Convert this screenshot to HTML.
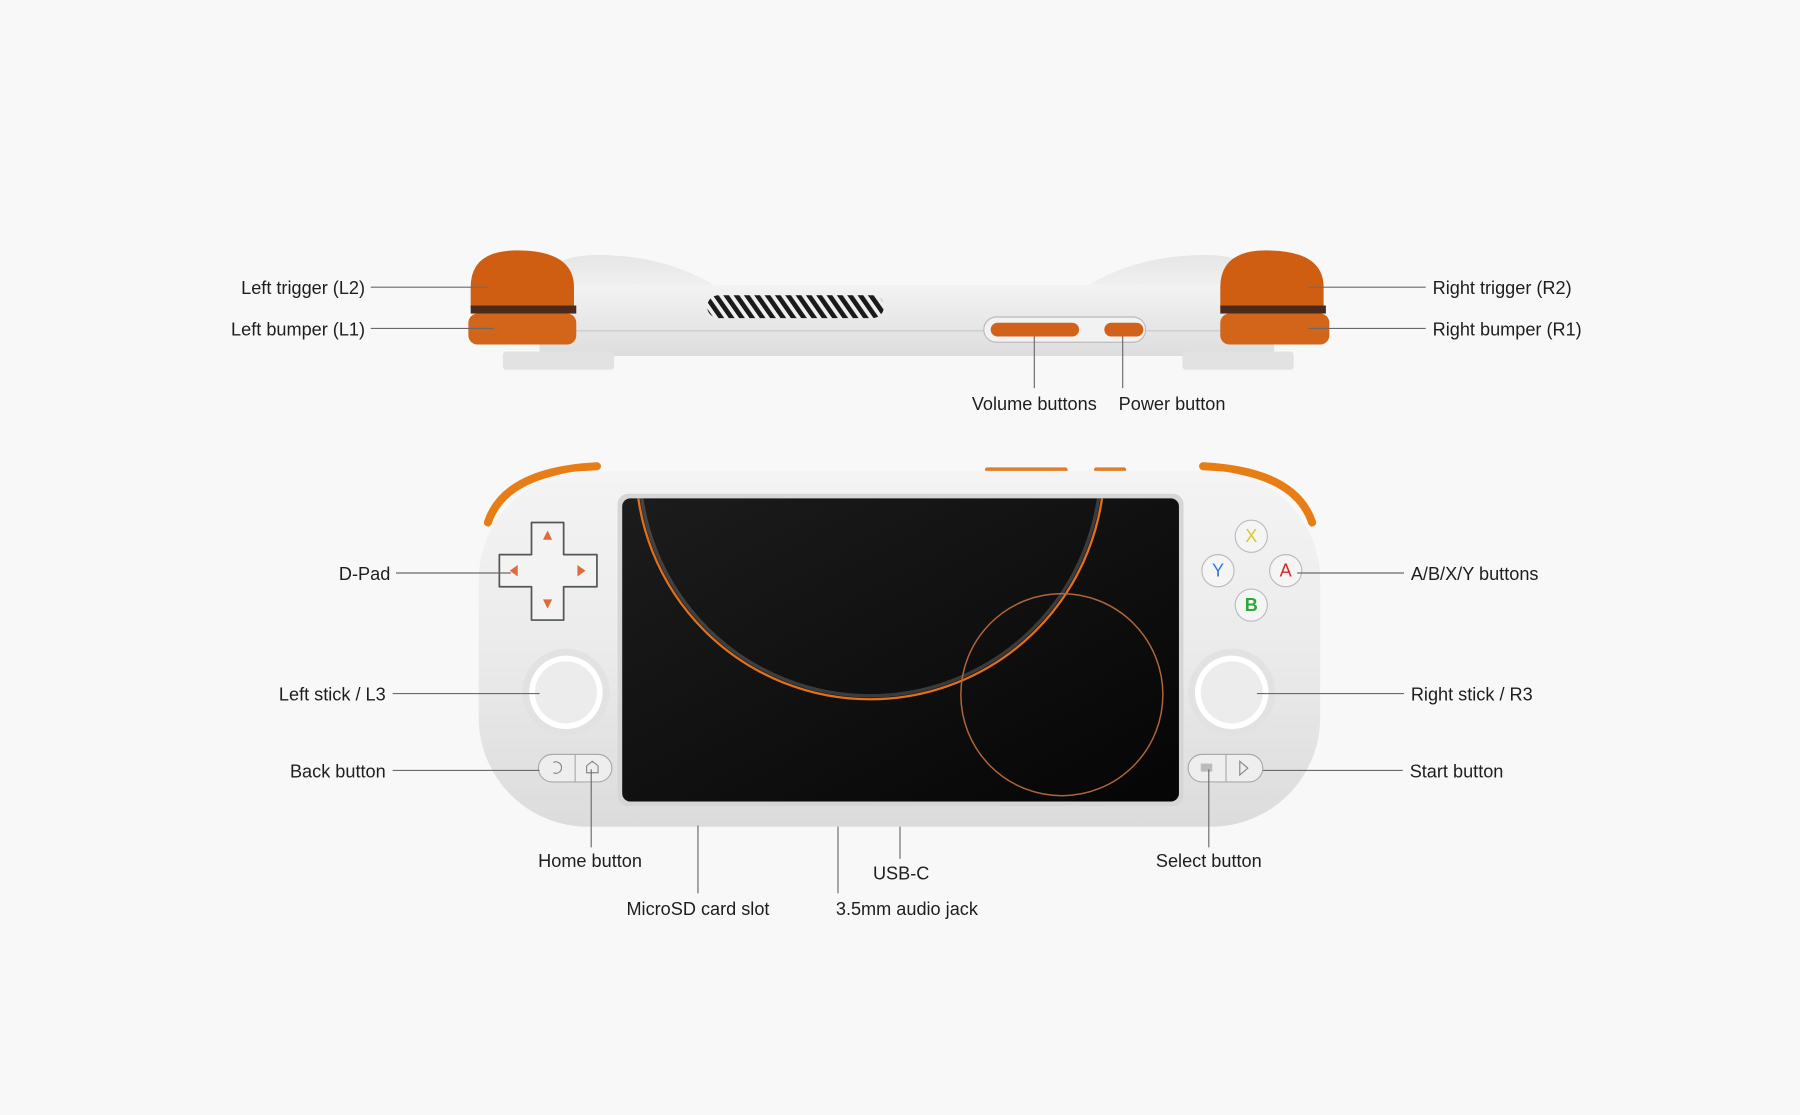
<!DOCTYPE html>
<html><head><meta charset="utf-8"><style>
html,body{margin:0;padding:0;background:#f8f8f8;}
svg{display:block}
text{font-family:"Liberation Sans",sans-serif;font-size:15.8px;fill:#1e1e1e;}
</style></head><body>
<svg width="1800" height="1115" viewBox="0 0 1568 971" xmlns="http://www.w3.org/2000/svg">
<defs>
<linearGradient id="bodyg" x1="0" y1="0" x2="0" y2="1">
<stop offset="0" stop-color="#f4f4f4"/><stop offset="0.5" stop-color="#ebebeb"/><stop offset="1" stop-color="#dcdcdc"/>
</linearGradient>
<linearGradient id="sideg" x1="0" y1="0" x2="0" y2="1">
<stop offset="0" stop-color="#f3f3f3"/><stop offset="1" stop-color="#dddddd"/>
</linearGradient>
<linearGradient id="hump" x1="0" y1="0" x2="0" y2="1">
<stop offset="0" stop-color="#e6e6e6"/><stop offset="1" stop-color="#f0f0f0"/>
</linearGradient>
<linearGradient id="scr" x1="0" y1="0" x2="1" y2="1">
<stop offset="0" stop-color="#1c1c1c"/><stop offset="1" stop-color="#050505"/>
</linearGradient>
<clipPath id="sc"><rect x="542" y="434" width="485" height="264" rx="7"/></clipPath>
<pattern id="vent" width="9" height="20" patternUnits="userSpaceOnUse" patternTransform="skewX(35)">
<rect width="9" height="20" fill="#eee"/><rect width="5" height="20" fill="#1a1a1a"/>
</pattern>
</defs>
<rect width="1568" height="971" fill="#f8f8f8"/>

<!-- TOP VIEW -->
<path d="M480 252 Q486 222 520 222 Q575 222 620 250 Z" fill="url(#hump)"/>
<path d="M470 250 Q476 222 520 222 Q580 222 625 250 L945 250 Q990 222 1050 222 Q1094 222 1100 250 Z" fill="url(#hump)"/>
<rect x="470" y="248" width="640" height="62" rx="6" fill="url(#sideg)"/>
<line x1="500" y1="288" x2="1063" y2="288" stroke="#c8c8c8" stroke-width="1"/>
<rect x="616" y="257" width="154" height="20" rx="10" fill="url(#vent)"/>
<rect x="438" y="306" width="97" height="16" rx="3" fill="#e2e2e2"/>
<rect x="1030" y="306" width="97" height="16" rx="3" fill="#e2e2e2"/>
<path d="M410 268 L410 250 Q410 218 450 218 Q500 218 500 250 L500 268 Z" fill="#cf5e12"/>
<rect x="410" y="266" width="92" height="7" fill="#4a2a1a"/>
<rect x="408" y="273" width="94" height="27" rx="8" fill="#d2651a"/>
<path d="M1063 268 L1063 250 Q1063 218 1103 218 Q1153 218 1153 250 L1153 268 Z" fill="#cf5e12"/>
<rect x="1063" y="266" width="92" height="7" fill="#4a2a1a"/>
<rect x="1063" y="273" width="95" height="27" rx="8" fill="#d2651a"/>
<rect x="857" y="276" width="141" height="22" rx="11" fill="#f2f2f2" stroke="#bbb"/>
<rect x="863" y="281" width="77" height="12" rx="6" fill="#d2621a"/>
<rect x="962" y="281" width="34" height="12" rx="6" fill="#d2621a"/>

<!-- FRONT VIEW -->
<rect x="858" y="407" width="72" height="4" rx="2" fill="#e07d2a"/>
<rect x="953" y="407" width="28" height="4" rx="2" fill="#e07d2a"/>
<path d="M425 455 Q440 410 520 406" fill="none" stroke="#e77d14" stroke-width="7" stroke-linecap="round"/>
<path d="M1048 406 Q1128 410 1143 455" fill="none" stroke="#e77d14" stroke-width="7" stroke-linecap="round"/>
<rect x="417" y="410" width="733" height="310" rx="95" fill="url(#bodyg)"/>
<rect x="538" y="430" width="493" height="272" rx="9" fill="#d6d6d6"/>
<rect x="542" y="434" width="485" height="264" rx="7" fill="url(#scr)"/>
<g clip-path="url(#sc)" fill="none">
<circle cx="758" cy="405" r="204" stroke="#e0701e" stroke-width="2"/>
<circle cx="758" cy="405" r="201" stroke="#ffffff" stroke-opacity="0.18" stroke-width="3"/>
<circle cx="925" cy="605" r="88" stroke="#b0653a" stroke-width="1.3"/>
</g>
<!-- dpad -->
<path d="M463 455 h28 v28 h29 v28 h-29 v29 h-28 v-29 h-28 v-28 h28 z" fill="#f3f3f3" stroke="#555" stroke-width="1.5" stroke-linejoin="round"/>
<polygon points="477,462 473,470 481,470" fill="#e06a3a"/>
<polygon points="477,530 473,522 481,522" fill="#e06a3a"/>
<polygon points="444,497 451,492 451,502" fill="#e06a3a"/>
<polygon points="510,497 503,492 503,502" fill="#e06a3a"/>
<!-- ABXY -->
<g stroke="#bbb" fill="#f5f5f5">
<circle cx="1090" cy="467" r="14"/><circle cx="1061" cy="497" r="14"/><circle cx="1120" cy="497" r="14"/><circle cx="1090" cy="527" r="14"/>
</g>
<g font-size="14" text-anchor="middle">
<text x="1090" y="472" style="fill:#d8c832">X</text>
<text x="1061" y="502" style="fill:#2d7fcf">Y</text>
<text x="1120" y="502" style="fill:#d42828">A</text>
<text x="1090" y="532" style="fill:#2aa838;font-weight:bold">B</text>
</g>
<!-- sticks -->
<circle cx="493" cy="603" r="38" fill="#e2e2e2"/><circle cx="493" cy="603" r="32" fill="#fff"/><circle cx="493" cy="603" r="27" fill="#ececec"/>
<circle cx="1073" cy="603" r="38" fill="#e2e2e2"/><circle cx="1073" cy="603" r="32" fill="#fff"/><circle cx="1073" cy="603" r="27" fill="#ececec"/>
<!-- small buttons -->
<rect x="469" y="657" width="64" height="24" rx="12" fill="#eee" stroke="#aaa"/><line x1="501" y1="657" x2="501" y2="681" stroke="#aaa"/>
<rect x="1035" y="657" width="65" height="24" rx="12" fill="#eee" stroke="#aaa"/><line x1="1068" y1="657" x2="1068" y2="681" stroke="#aaa"/>
<path d="M482 664 a5 5 0 1 1 0 9" fill="none" stroke="#888"/>
<path d="M511 673 v-6 l5 -4 l5 4 v6 z" fill="none" stroke="#888"/>
<rect x="1046" y="665" width="10" height="7" fill="#bbb"/>
<path d="M1080 663 l7 6 l-7 6 z" fill="none" stroke="#888"/>

<!-- leader lines -->
<g stroke="#6a6a6a" stroke-width="1">
<line x1="323" y1="250" x2="425" y2="250"/>
<line x1="323" y1="286" x2="430" y2="286"/>
<line x1="1140" y1="250" x2="1242" y2="250"/>
<line x1="1140" y1="286" x2="1242" y2="286"/>
<line x1="901" y1="293" x2="901" y2="338"/>
<line x1="978" y1="293" x2="978" y2="338"/>
<line x1="345" y1="499" x2="445" y2="499"/>
<line x1="1130" y1="499" x2="1223" y2="499"/>
<line x1="342" y1="604" x2="470" y2="604"/>
<line x1="1095" y1="604" x2="1223" y2="604"/>
<line x1="342" y1="671" x2="470" y2="671"/>
<line x1="1100" y1="671" x2="1222" y2="671"/>
<line x1="515" y1="670" x2="515" y2="738"/>
<line x1="1053" y1="670" x2="1053" y2="738"/>
<line x1="608" y1="719" x2="608" y2="778"/>
<line x1="784" y1="720" x2="784" y2="748"/>
<line x1="730" y1="720" x2="730" y2="778"/>
</g>

<!-- labels -->
<g text-anchor="end">
<text x="318" y="256">Left trigger (L2)</text>
<text x="318" y="292">Left bumper (L1)</text>
<text x="340" y="505">D-Pad</text>
<text x="336" y="610">Left stick / L3</text>
<text x="336" y="677">Back button</text>
</g>
<g>
<text x="1248" y="256">Right trigger (R2)</text>
<text x="1248" y="292">Right bumper (R1)</text>
<text x="1229" y="505">A/B/X/Y buttons</text>
<text x="1229" y="610">Right stick / R3</text>
<text x="1228" y="677">Start button</text>
</g>
<g text-anchor="middle">
<text x="901" y="357">Volume buttons</text>
<text x="1021" y="357">Power button</text>
<text x="514" y="755">Home button</text>
<text x="1053" y="755">Select button</text>
<text x="785" y="766">USB-C</text>
<text x="608" y="797">MicroSD card slot</text>
<text x="790" y="797">3.5mm audio jack</text>
</g>
</svg>
</body></html>
